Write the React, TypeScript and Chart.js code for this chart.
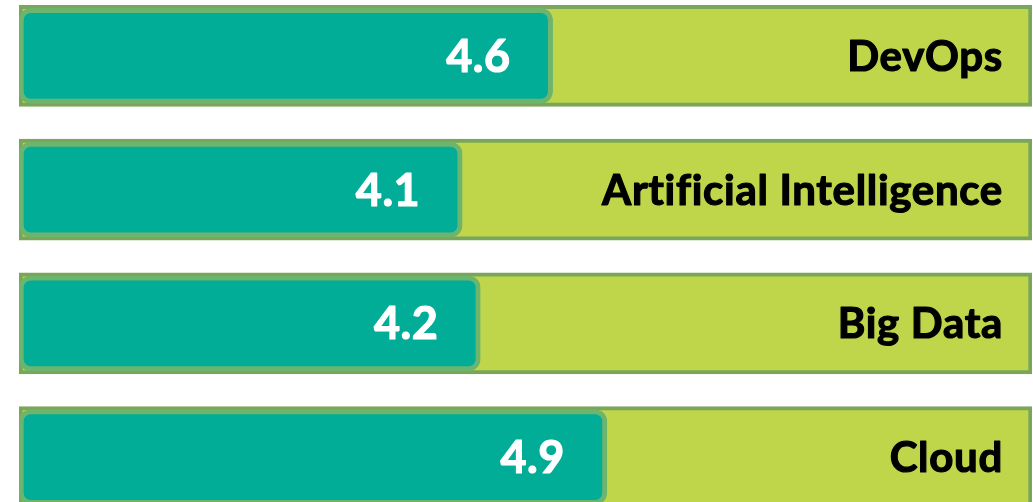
import React, { useEffect, useRef } from "react";
import { Chart, registerables } from "chart.js";

Chart.register(...registerables);

const categories: string[] = ["DevOps", "Artificial Intelligence", "Big Data", "Cloud"];
const scores: number[] = [4.6, 4.1, 4.2, 4.9];
const AXIS_MIN = 1.65;
const TRACK_MAX = 7.25;
const trackValues: number[] = categories.map(() => TRACK_MAX);

const TEAL = "#02ad97";
const TEAL_BORDER = "#6db56e";
const TRACK = "#bfd64b";
const TRACK_BORDER = "#7aa65a";

const drawText = (ctx: CanvasRenderingContext2D, text: string, x: number, y: number, font: string, color: string, thicken: number, spacing: string) => {
  ctx.save();
  ctx.font = font;
  (ctx as any).letterSpacing = spacing;
  ctx.fillStyle = color;
  ctx.strokeStyle = color;
  ctx.lineWidth = thicken;
  ctx.lineJoin = "round";
  ctx.textAlign = "right";
  ctx.textBaseline = "alphabetic";
  ctx.fillText(text, x, y);
  if (thicken > 0) ctx.strokeText(text, x, y);
  ctx.restore();
};

const labelPlugin = {
  id: "barLabels",
  afterDatasetsDraw(chart: any) {
    const ctx = chart.ctx as CanvasRenderingContext2D;
    const meta = chart.getDatasetMeta(0);
    const area = chart.chartArea;
    meta.data.forEach((bar: any, i: number) => {
      const y = bar.y;
      drawText(ctx, String(scores[i]), bar.x - 42, y + 16, "bold 45px Lato", "#ffffff", 1.2, "0.5px");
      drawText(ctx, categories[i], area.right - 29, y + 15, "bold 42px Lato", "#000000", 1.2, "0.7px");
    });
  },
};

export default function App() {
  const ref = useRef<HTMLCanvasElement | null>(null);
  useEffect(() => {
    if (!ref.current) return;
    const chart = new Chart(ref.current, {
      type: "bar",
      data: {
        labels: categories,
        datasets: [
          {
            data: scores,
            backgroundColor: TEAL,
            borderColor: TEAL_BORDER,
            borderWidth: 5,
            borderRadius: 12,
            borderSkipped: false,
            barThickness: 95,
            grouped: false,
            base: AXIS_MIN,
            order: 0,
          },
          {
            data: trackValues,
            backgroundColor: TRACK,
            borderColor: TRACK_BORDER,
            borderWidth: 4,
            borderRadius: 0,
            borderSkipped: false,
            barThickness: 101,
            grouped: false,
            base: AXIS_MIN,
            order: 1,
          },
        ],
      },
      options: {
        indexAxis: "y",
        animation: false,
        responsive: false,
        maintainAspectRatio: false,
        layout: { padding: { left: 19, right: 1, top: 0, bottom: 0 } },
        scales: {
          x: { display: false, min: AXIS_MIN, max: TRACK_MAX },
          y: { display: false },
        },
        plugins: {
          legend: { display: false },
          tooltip: { enabled: false },
        },
      },
      plugins: [labelPlugin],
    });
    return () => chart.destroy();
  }, []);
  return (
    <div style={{ position: "fixed", left: 0, top: 0, width: 1033, height: 502, overflow: "hidden", background: "#ffffff" }}>
      <canvas ref={ref} width={1033} height={535} style={{ position: "absolute", left: 0, top: -11, width: 1033, height: 535 }} />
    </div>
  );
}
